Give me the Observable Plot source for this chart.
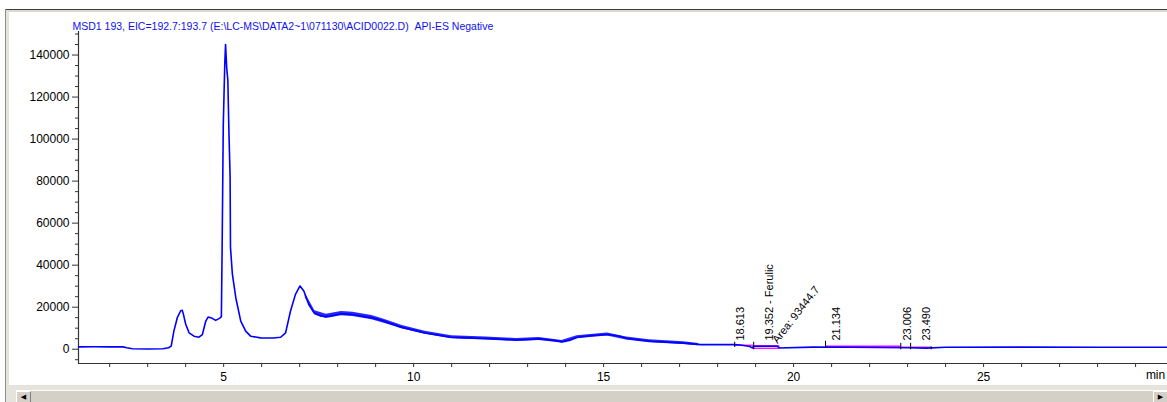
<!DOCTYPE html>
<html>
<head>
<meta charset="utf-8">
<script src="https://cdn.jsdelivr.net/npm/d3@7"></script>
<script src="https://cdn.jsdelivr.net/npm/@observablehq/plot@0.6"></script>
<style>
  html, body { margin: 0; padding: 0; background: #fff; }
  #wrap { position: relative; width: 1167px; height: 402px; overflow: hidden; background: #fff; }
  #wrap svg { position: absolute; left: 0; top: 0; }
  .f { position: absolute; }
  .btn { position: absolute; top: 391px; width: 13px; height: 11px; background: #d4d0c8;
         border-left: 1px solid #fff; border-top: 1px solid #fff; border-right: 1px solid #808080;
         font: 7px 'DejaVu Sans', sans-serif; color: #000; text-align: center; line-height: 11px; }
</style>
</head>
<body>
<div id="wrap"></div>
<script>
// Extracted ion chromatogram, m/z 193 (negative ESI)
const chartTitle = "MSD1 193, EIC=192.7:193.7 (E:\\LC-MS\\DATA2~1\\071130\\ACID0022.D)\u00a0\u00a0API-ES Negative";

// retention time (min) and abundance along the trace
const traceTime = [
  1.18, 1.6, 2.0, 2.35, 2.45, 2.6, 3.0, 3.4, 3.55, 3.62, 3.69, 3.78, 3.87, 3.91, 3.94, 4.0,
  4.09, 4.22, 4.35, 4.44, 4.53, 4.59, 4.70, 4.79, 4.90, 4.94, 4.96, 4.99, 5.03, 5.05, 5.08,
  5.11, 5.14, 5.17, 5.18, 5.23, 5.32, 5.45, 5.58, 5.71, 5.97, 6.3, 6.5, 6.63, 6.76, 6.89,
  7.01, 7.11, 7.24, 7.38, 7.55, 7.69, 7.82, 8.08, 8.34, 8.61, 8.9, 9.22, 9.66, 10.27, 10.97,
  11.4, 11.85, 12.3, 12.73, 13.34, 13.7, 13.91, 14.1, 14.31, 14.7, 15.1, 15.4, 15.62, 16.24,
  17.11, 17.55, 18.43, 18.6, 18.85, 18.91, 18.95, 19.57, 19.62, 20.5, 21.5, 23.0, 23.5, 24.0,
  26.0, 28.0, 29.84
];
const traceIntensity = [
  1100, 1150, 1100, 1100, 700, 200, 100, 200, 700, 1500, 8600, 15000, 18300, 18500, 16700, 12000,
  7800, 6200, 5700, 7000, 13400, 15300, 14700, 13700, 14800, 15500, 48400, 106500, 136000, 145000, 134000,
  128000, 102600, 81900, 48400, 35700, 24500, 13400, 8600, 6200, 5400, 5300, 5700, 7800, 18200, 26100,
  30100, 27700, 21300, 17300, 15800, 15600, 15800, 16900, 16600, 15800, 15000, 13400, 10500, 7800, 5700,
  5400, 5100, 4800, 4400, 4900, 4200, 3500, 4200, 5700, 6500, 7000, 6300, 5100, 3800,
  2900, 2200, 2200, 2000, 1300, 600, 1400, 1400, 600, 1000, 900, 700, 500, 900,
  1000, 900, 900
];

// noise envelope of the trace over the broad late region
const bandTime = [7.15, 7.4, 7.7, 8.1, 8.4, 8.9, 9.2, 9.7, 10.3, 11.0, 11.9, 12.7, 13.3, 13.9, 14.3, 15.1, 15.6, 16.2, 17.1, 17.5];
const bandLow  = [24500, 16300, 14600, 15900, 15600, 14000, 12500, 9700, 7100, 5000, 4400, 3700, 4200, 2900, 5000, 6300, 4400, 3100, 2300, 1700];
const bandHigh = [26500, 18300, 16600, 17900, 17600, 16000, 14400, 11300, 8500, 6400, 5800, 5100, 5600, 4100, 6400, 7700, 5800, 4500, 3500, 2700];

// integration baselines (start, end, level)
const baseStart = [18.45, 20.84, 22.82];
const baseEnd   = [18.95, 22.82, 23.62];
const baseLevel = [1900, 1400, 950];
// integrated Ferulic peak area outline
const areaStart = 18.95, areaEnd = 19.62, areaLow = 200, areaHigh = 1400;

// integration event markers
const markTime = [18.45, 18.95, 20.84, 22.82, 23.08, 23.62];
const markLow  = [800, -300, 600, -300, -300, -300];
const markHigh = [3300, 3300, 3800, 2800, 2800, 1200];

// peak annotations
const peakTime  = [18.613, 19.352, 21.134, 23.006, 23.490];
const peakLabel = ["18.613", "19.352 - Ferulic", "21.134", "23.006", "23.490"];
const areaLabel = "Area: 93444.7";
const areaLabelTime = 19.5;

// axes
const xDomain = [1.18, 29.84];
const yDomain = [-6800, 151200];
const xMajorTicks = [5, 10, 15, 20, 25];
const xMinorTicks = [2, 3, 4, 6, 7, 8, 9, 11, 12, 13, 14, 16, 17, 18, 19, 21, 22, 23, 24, 26, 27, 28, 29];
const yMajorTicks = [0, 20000, 40000, 60000, 80000, 100000, 120000, 140000];
const yMinorTicks = [-5000, 5000, 10000, 15000, 25000, 30000, 35000, 45000, 50000, 55000, 65000, 70000, 75000,
  85000, 90000, 95000, 105000, 110000, 115000, 125000, 130000, 135000, 145000, 150000];
const xUnit = "min";
const xUnitTime = 29.78;

const trace = traceTime.map((t, i) => ({t, v: traceIntensity[i]}));
const band = bandTime.map((t, i) => ({t, lo: bandLow[i], hi: bandHigh[i]}));
const baselines = baseStart.map((s, i) => ({x1: s, x2: baseEnd[i], y: baseLevel[i]}));
const marks = markTime.map((t, i) => ({t, lo: markLow[i], hi: markHigh[i]}));
const peaks = peakTime.map((t, i) => ({t, label: peakLabel[i]}));

const BLUE = "#0000ff";
const PINK = "#ff00ff";
const AXIS = "#333333";

const chart = Plot.plot({
  width: 1167,
  height: 385,
  marginLeft: 78,
  marginTop: 31,
  marginBottom: 22,
  marginRight: 0,
  x: {domain: xDomain},
  y: {domain: yDomain},
  style: {background: "transparent", fontFamily: "'Liberation Sans', Arial, sans-serif", fontSize: "12px", color: "#000"},
  marks: [
    Plot.axisY({ticks: yMajorTicks, tickSize: 6, tickPadding: 3, tickFormat: d => String(d), label: null, stroke: AXIS}),
    Plot.axisY({ticks: yMinorTicks, tickSize: 3, tickFormat: () => "", label: null, stroke: AXIS}),
    Plot.axisX({ticks: xMajorTicks, tickSize: 4, tickPadding: 5, label: null, stroke: AXIS}),
    Plot.axisX({ticks: xMinorTicks, tickSize: 4, tickFormat: () => "", label: null, stroke: AXIS}),
    Plot.ruleX([xDomain[0]], {stroke: AXIS, strokeWidth: 1.2}),
    Plot.ruleY([yDomain[0]], {stroke: AXIS, strokeWidth: 1.2}),
    Plot.text([xUnit], {x: [xUnitTime], frameAnchor: "bottom", dy: 15, textAnchor: "end", text: d => d}),

    // integration baselines and area
    Plot.ruleY(baselines, {x1: "x1", x2: "x2", y: "y", stroke: PINK, strokeWidth: 1.3}),
    Plot.rect([{}], {x1: areaStart, x2: areaEnd, y1: areaLow, y2: areaHigh, fill: "none", stroke: PINK, strokeWidth: 1.3}),

    // chromatogram trace
    Plot.areaY(band, {x: "t", y1: "lo", y2: "hi", fill: BLUE, fillOpacity: 0.85}),
    Plot.line(trace, {x: "t", y: "v", stroke: BLUE, strokeWidth: 1.6}),

    // event markers
    Plot.ruleX(marks, {x: "t", y1: "lo", y2: "hi", stroke: "#000", strokeWidth: 1}),

    // peak labels
    Plot.text(peaks, {x: "t", y: 4100, text: "label", rotate: -90, textAnchor: "start", fontSize: 11, fill: "#000"}),
    Plot.text([areaLabel], {x: [areaLabelTime], y: [3500], text: d => d, rotate: -52, textAnchor: "start", fontSize: 11, fill: "#000"}),

    // title
    Plot.text([chartTitle], {frameAnchor: "top-left", dx: -6, dy: -9, text: d => d, textAnchor: "start", fontSize: 10.5, fill: "#1010f0"})
  ]
});

const wrap = document.getElementById("wrap");
wrap.appendChild(chart);

// window frame around the plot
const frameParts = [
  {left: 5, top: 9, width: 1162, height: 1, background: "#3c3c3c"},
  {left: 6, top: 10, width: 1161, height: 2, background: "#dcd9d2"},
  {left: 5, top: 9, width: 1, height: 393, background: "#8c8c8c"},
  {left: 6, top: 10, width: 3, height: 392, background: "#e6e3dc"},
  {left: 6, top: 385, width: 1161, height: 17, background: "#e6e3dc"},
  {left: 16, top: 390, width: 1151, height: 12, background: "#d4d0c8"},
  {left: 16, top: 390, width: 1151, height: 1, background: "#ffffff"}
];
for (const p of frameParts) {
  const d = document.createElement("div");
  d.className = "f";
  Object.assign(d.style, {left: p.left + "px", top: p.top + "px", width: p.width + "px", height: p.height + "px", background: p.background});
  wrap.appendChild(d);
}
const lb = document.createElement("div");
lb.className = "btn"; lb.style.left = "16px"; lb.textContent = "\u25C0";
wrap.appendChild(lb);
const rb = document.createElement("div");
rb.className = "btn"; rb.style.left = "1153px"; rb.textContent = "\u25B6";
wrap.appendChild(rb);
</script>
</body>
</html>
